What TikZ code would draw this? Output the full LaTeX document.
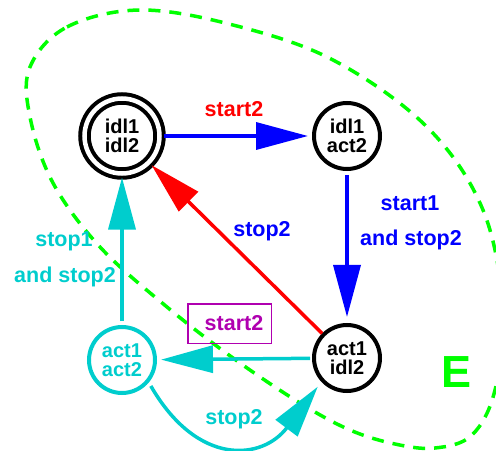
\documentclass[tikz,border=0pt]{standalone}
\usepackage{fontspec}
\setmainfont{Liberation Sans}
\usetikzlibrary{arrows.meta}

\definecolor{stcyan}{RGB}{0,205,205}
\definecolor{stpurple}{RGB}{176,0,176}
\definecolor{stgreen}{RGB}{0,255,0}

\begin{document}
\begin{tikzpicture}[x=1bp,y=1bp,
    font=\bfseries\fontsize{21.5bp}{18bp}\selectfont]

        \clip (0,0) rectangle (496,-451);

        % region E
        \draw[stgreen,line width=3.5bp,dash pattern=on 12bp off 9bp]
          plot[smooth cycle,tension=0.6] coordinates {
            (30,-67) (67,-27) (140,-10) (233,-25) (333,-60) (427,-127)
            (483,-210) (503,-310) (495,-390) (472,-435) (435,-448)
            (395,-444) (350,-430) (300,-403) (233,-358) (167,-307)
            (100,-247) (53,-183) (30,-117)};
        \node[stgreen,anchor=base,font=\bfseries\fontsize{45bp}{45bp}\selectfont]
          (E) at (456,-387) {E};

        \begin{scope}[every node/.style={circle,draw,line width=4bp,
            minimum size=66bp,inner sep=0pt,align=center,
            font=\bfseries\fontsize{20bp}{19bp}\selectfont}]
          \node[double,double distance=4.5bp,minimum size=75bp,outer sep=4bp]
                          (ii) at (122,-136) {idl1\\idl2};
          \node           (ia) at (347,-136) {idl1\\act2};
          \node           (ai) at (347,-358) {act1\\idl2};
          \node[stcyan]   (aa) at (122,-360) {act1\\act2};
        \end{scope}

        \begin{scope}[every edge/.style={draw,line width=3.5bp,
            -{Triangle[length=52bp,width=27bp]}}]
          \path (ii) edge[blue,shorten >=4bp] (ia);
          \path (ia) edge[blue,shorten <=4bp,shorten >=6bp] (ai);
          \path (ai) edge[red] (ii);
          \path (ai) edge[stcyan,shorten <=2bp,shorten >=4bp] (aa);
          \path (aa) edge[stcyan,shorten <=4bp] (ii);
          \path (aa.-40) edge[stcyan,out=-60,in=-127,looseness=1.45,
                              shorten <=4bp,shorten >=6bp] (ai.-137);
        \end{scope}

        \begin{scope}[every node/.style={anchor=base}]
          \node[red]    (lstart)    at (234,-117)   {start2};
          \node[blue]   (lstartone) at (410,-210.7) {start1};
          \node[blue]   (landstop)  at (411,-245.7) {and stop2};
          \node[blue]   (lstop)     at (262,-236.7) {stop2};
          \node[stcyan] (lstopone)  at (64,-246.7)  {stop1};
          \node[stcyan] (landstopc) at (65,-282.7)  {and stop2};
          \node[stcyan] (lstopc)    at (234,-424)   {stop2};
        \end{scope}

        \node[stpurple,draw,line width=1.5bp,inner xsep=8bp,inner ysep=0pt,
              text width=67.5bp,align=right,minimum height=39.5bp]
          (lbox) at (229.5,-323.5) {start2};

      \end{tikzpicture}
\end{document}
